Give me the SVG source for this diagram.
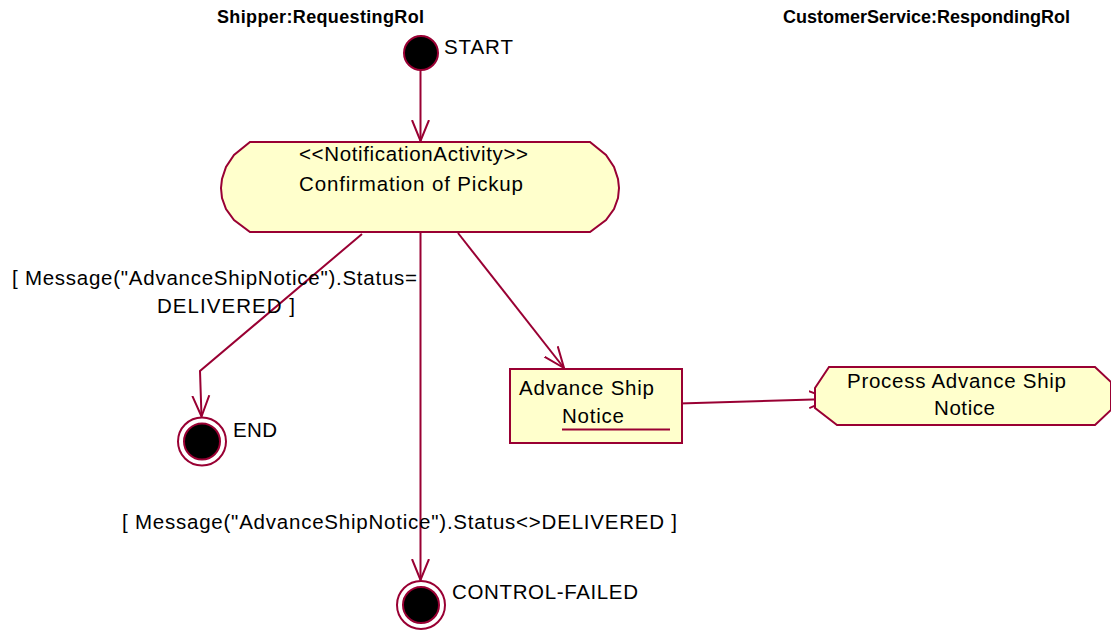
<svg xmlns="http://www.w3.org/2000/svg" width="1111" height="632" viewBox="0 0 1111 632">
<style>
text{font-family:"Liberation Sans",Arial,sans-serif;font-size:20.5px;fill:#000}
.hdr{font-size:18px;font-weight:bold}
.ln{fill:none;stroke:#990033;stroke-width:2}
.act{fill:#FFFFCC;stroke:#990033;stroke-width:2}
.blk{fill:#000;stroke:#990033;stroke-width:2}
.ring{fill:#fff;stroke:#990033;stroke-width:2}
</style>
<defs>
<marker id="open" viewBox="0 0 22 20" refX="21" refY="10" markerWidth="22" markerHeight="20" markerUnits="userSpaceOnUse" orient="auto">
<path d="M0,1.5 L21,10 L0,18.5" fill="none" stroke="#990033" stroke-width="2"/>
</marker>
</defs>
<rect width="1111" height="632" fill="#fff"/>
<g id="lanes">
<text class="hdr" x="217" y="23" textLength="207" lengthAdjust="spacing">Shipper:RequestingRol</text>
<text class="hdr" x="783" y="23" textLength="287" lengthAdjust="spacing">CustomerService:RespondingRol</text>
</g>
<g id="connectors">
<path class="ln" d="M420.5,70 L420.5,141" marker-end="url(#open)"/>
<path class="ln" d="M362,234 L200,371 L201.5,416.5" marker-end="url(#open)"/>
<path class="ln" d="M420.5,233 L420.5,580" marker-end="url(#open)"/>
<path class="ln" d="M458,233 L564,368" marker-end="url(#open)"/>
<path class="ln" d="M679,403.5 L830,399" marker-end="url(#open)"/>
<text x="12" y="285" textLength="405" lengthAdjust="spacing">[ Message("AdvanceShipNotice").Status=</text>
<text x="157" y="313" textLength="138" lengthAdjust="spacing">DELIVERED ]</text>
<text x="122" y="529" textLength="555" lengthAdjust="spacing">[ Message("AdvanceShipNotice").Status&lt;&gt;DELIVERED ]</text>
</g>
<g id="start">
<circle class="blk" cx="421" cy="53" r="17"/>
<text x="444" y="54" textLength="69" lengthAdjust="spacing">START</text>
</g>
<g id="confirmation-of-pickup">
<polygon class="act" points="250,142 590,142 606,155 614,167 618,179 619,188 618,198 614,209 606,220 590,232 250,232 234,220 226,209 222,198 221,188 222,179 226,167 234,155"/>
<text x="299" y="161" textLength="229" lengthAdjust="spacing">&lt;&lt;NotificationActivity&gt;&gt;</text>
<text x="299" y="191" textLength="224" lengthAdjust="spacing">Confirmation of Pickup</text>
</g>
<g id="end">
<circle class="ring" cx="202" cy="441.5" r="24"/>
<circle class="blk" cx="202" cy="441.5" r="18"/>
<text x="233" y="437" textLength="44" lengthAdjust="spacing">END</text>
</g>
<g id="control-failed">
<circle class="ring" cx="421" cy="605" r="24"/>
<circle class="blk" cx="421" cy="605" r="18"/>
<text x="452" y="599" textLength="186" lengthAdjust="spacing">CONTROL-FAILED</text>
</g>
<g id="advance-ship-notice">
<rect class="act" x="510" y="369" width="172" height="74"/>
<text x="519" y="395" textLength="135" lengthAdjust="spacing">Advance Ship</text>
<text x="562" y="423" textLength="62" lengthAdjust="spacing">Notice</text>
<line x1="562" y1="429.5" x2="670" y2="429.5" stroke="#990033" stroke-width="2"/>
</g>
<g id="process-advance-ship-notice">
<polygon class="act" points="829,367 1095,367 1111,382 1111,410 1095,425 837,425 815,408 815,388"/>
<text x="847" y="388" textLength="219" lengthAdjust="spacing">Process Advance Ship</text>
<text x="934" y="415" textLength="61" lengthAdjust="spacing">Notice</text>
</g>
</svg>
